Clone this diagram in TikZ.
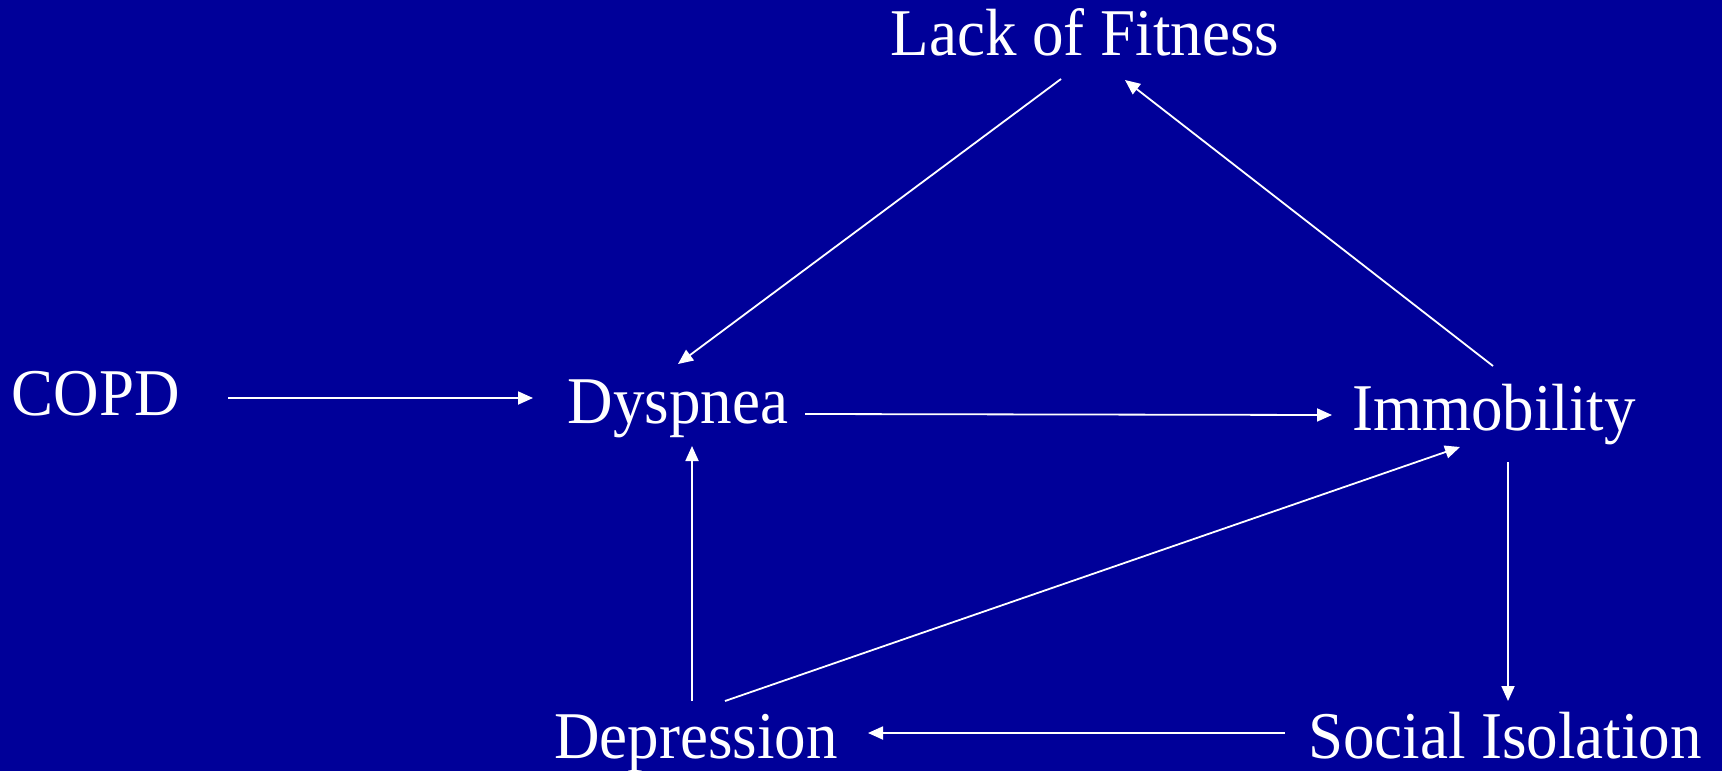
\documentclass[tikz,border=0pt]{standalone}
\usepackage{fontspec}
\setmainfont{Liberation Serif}
\usetikzlibrary{arrows.meta}
\definecolor{bgblue}{RGB}{0,0,153}
\newcommand{\tallt}[1]{\scalebox{1}[1.06]{#1}}
\begin{document}
\begin{tikzpicture}[x=1pt,y=-1pt,
  lbl/.style={anchor=base,inner sep=0pt,text=white,font=\fontsize{63}{70}\selectfont},
  arr/.style={draw=white,line width=1.8pt,-{Triangle[length=15pt,width=13pt]}}]
\fill[bgblue] (0,0) rectangle (1722,771);
\useasboundingbox (0,0) rectangle (1722,771);
\node[lbl] (lack) at (1085,55) {\tallt{Lack of Fitness}};
\node[lbl] (copd) at (96,415) {\tallt{COPD}};
\node[lbl] (dys) at (678,423) {\tallt{Dyspnea}};
\node[lbl] (imm) at (1494,430) {\tallt{Immobility}};
\node[lbl] (dep) at (696,758) {\tallt{Depression}};
\node[lbl] (soc) at (1505,758) {\tallt{Social Isolation}};
\draw[arr] ([shift={(132,-17)}]copd.base) -- ([shift={(-145,-25)}]dys.base);
\draw[arr] ([shift={(-24,24)}]lack.base) -- ([shift={(0,-59)}]dys.base);
\draw[arr] ([shift={(-1,-64)}]imm.base) -- ([shift={(40,25)}]lack.base);
\draw[arr] ([shift={(127,-9)}]dys.base) -- ([shift={(-162,-15)}]imm.base);
\draw[arr] ([shift={(-4,-57)}]dep.base) -- ([shift={(14,23)}]dys.base);
\draw[arr] ([shift={(29,-57)}]dep.base) -- ([shift={(-34,17)}]imm.base);
\draw[arr] ([shift={(14,32)}]imm.base) -- ([shift={(3,-57)}]soc.base);
\draw[arr] ([shift={(-220,-25)}]soc.base) -- ([shift={(172,-25)}]dep.base);
\end{tikzpicture}
\end{document}
